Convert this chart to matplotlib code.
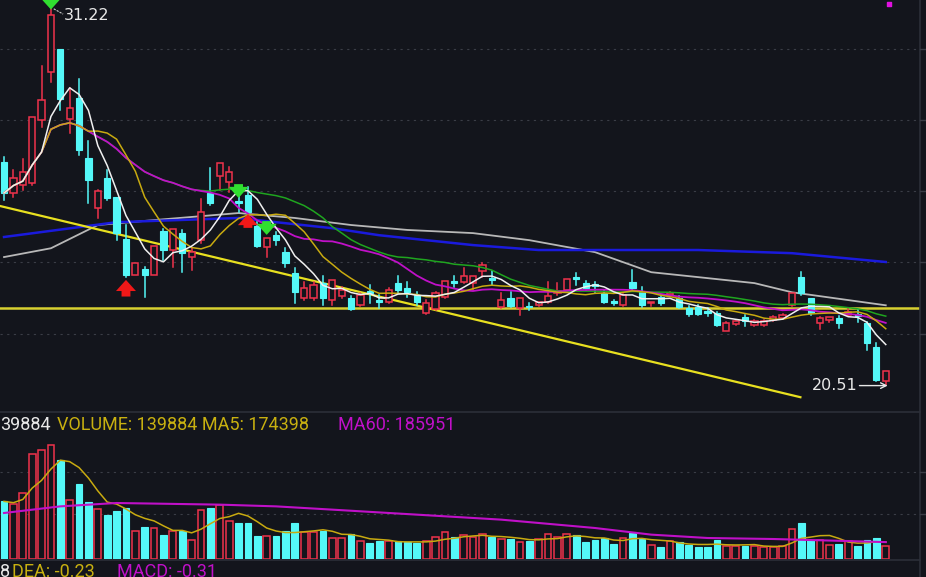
import numpy as np
import pandas as pd
import matplotlib
matplotlib.use("Agg")
import matplotlib.pyplot as plt
from matplotlib.patches import Rectangle

# ---------------- data ----------------
opens = [26.85,25.97,26.19,26.25,28.04,29.40,30.06,28.07,28.67,26.96,25.54,26.39,25.85,24.66,23.64,23.81,23.64,24.89,24.35,24.83,
         24.15,24.63,25.97,26.45,26.28,25.74,25.91,25.03,24.43,24.77,24.29,23.69,22.98,22.98,23.41,22.93,23.04,22.98,22.78,23.18,
         22.93,22.87,23.41,23.27,23.07,22.56,22.67,23.01,23.47,23.44,23.41,23.75,23.55,22.73,22.98,22.70,22.76,22.78,22.87,23.13,
         23.21,23.58,23.41,23.38,23.13,22.90,22.78,23.44,23.15,22.84,23.01,23.07,22.98,22.70,22.73,22.61,22.56,22.05,22.25,22.44,
         22.22,22.22,22.36,22.42,22.78,23.58,22.98,22.27,22.36,22.42,22.50,22.53,22.27,21.59,20.63]
closes = [25.97,26.39,26.56,28.13,28.61,31.02,28.64,28.38,27.19,26.34,26.02,25.82,24.83,23.64,23.98,23.64,24.46,24.35,24.94,24.26,
          24.29,25.43,25.68,26.82,26.56,25.68,25.43,24.46,24.69,24.63,23.98,23.15,23.27,23.35,22.98,23.50,23.21,22.67,23.07,23.13,
          22.87,23.21,23.21,23.15,22.87,22.84,23.13,23.47,23.41,23.61,23.61,23.92,23.50,22.93,22.76,22.98,22.73,22.87,23.04,23.18,
          23.52,23.52,23.27,23.32,22.87,22.84,23.07,23.27,22.78,22.87,22.84,23.13,22.73,22.53,22.53,22.56,22.22,22.27,22.33,22.33,
          22.33,22.33,22.44,22.50,23.13,23.13,22.56,22.42,22.44,22.27,22.59,22.47,21.71,20.65,20.91]
highs = [26.99,26.62,26.93,28.13,29.57,31.22,30.06,28.95,29.21,27.44,26.05,26.62,25.85,25.06,23.98,23.86,24.46,24.94,24.94,24.92,
         24.40,25.80,26.68,26.82,26.71,25.91,26.14,25.14,24.69,24.86,24.40,23.84,23.44,23.44,23.61,23.50,23.30,23.04,23.13,23.35,
         23.07,23.27,23.61,23.44,23.15,22.93,23.15,23.47,23.61,23.84,23.61,23.98,23.75,23.13,23.15,22.98,22.84,22.87,23.44,23.41,
         23.52,23.69,23.47,23.44,23.21,22.93,23.10,23.78,23.30,22.87,23.07,23.15,23.04,22.76,22.78,22.70,22.59,22.30,22.36,22.50,
         22.36,22.36,22.47,22.53,23.13,23.72,22.98,22.44,22.44,22.47,22.70,22.67,22.30,21.71,20.91]
lows = [25.77,25.85,26.05,26.19,27.84,29.12,28.32,27.67,27.05,25.68,25.26,25.77,24.63,23.58,23.64,23.01,23.64,24.06,23.86,23.72,
        23.78,24.55,25.63,26.05,26.00,25.43,25.37,24.43,24.15,24.49,23.86,22.84,22.93,22.93,22.78,22.78,22.98,22.64,22.76,22.84,
        22.70,22.84,23.13,23.01,22.78,22.53,22.64,22.98,23.30,23.41,23.21,23.58,23.35,22.70,22.73,22.50,22.64,22.76,22.84,23.07,
        23.18,23.35,23.21,23.15,22.84,22.78,22.76,23.21,22.73,22.76,22.78,23.04,22.70,22.47,22.50,22.47,22.19,22.05,22.22,22.19,
        22.19,22.19,22.33,22.39,22.76,23.07,22.50,22.10,22.30,22.13,22.47,22.30,21.51,20.63,20.51]
volumes = [634,605,726,1155,1203,1258,1093,645,829,627,550,480,532,561,312,348,341,260,312,312,
           213,543,561,598,414,396,396,249,249,249,312,396,293,293,312,231,231,279,194,176,
           194,194,194,183,176,194,238,293,238,260,238,275,238,224,220,183,202,224,275,238,
           279,260,183,205,227,169,231,286,220,158,132,194,183,158,132,132,213,147,147,139,
           147,132,128,147,330,396,205,205,158,169,194,147,213,231,140]
volumes = [v * 1000 for v in volumes]

ma60_idx = [0, 8, 12, 25, 29, 35, 40, 50, 57, 74, 84, 94]
ma60_val = [24.72, 25.00, 25.14, 25.26, 25.14, 24.97, 24.77, 24.49, 24.35, 24.35, 24.26, 24.01]
ma120_idx = [0, 5, 10, 16, 25, 31, 37, 43, 50, 56, 63, 69, 74, 80, 84, 94]
ma120_val = [24.15, 24.40, 25.06, 25.20, 25.40, 25.26, 25.06, 24.92, 24.83, 24.63, 24.29, 23.72, 23.58, 23.41, 23.15, 22.78]
vma60_idx = [0, 6, 12, 23, 29, 35, 44, 53, 63, 69, 75, 82, 94]
vma60_val = [506, 579, 616, 598, 579, 543, 488, 433, 341, 268, 231, 220, 186]
vma60_val = [v * 1000 for v in vma60_val]

support_level = 22.70
trend_start = (-0.43, 25.60)
trend_end = (84.9, 20.17)

# --------------- figure ---------------
W, H = 926, 577
BG = "#13151c"
RED = "#f0324c"
CYAN = "#54f8f8"
GRID = "#3a3d46"
fig = plt.figure(figsize=(W / 100, H / 100), dpi=100, facecolor=BG)

def px_axes(x0, y0, x1, y1):
    return fig.add_axes([x0 / W, 1 - y1 / H, (x1 - x0) / W, (y1 - y0) / H])

n = len(opens)
idx = np.arange(n)
x_lo, x_hi = -0.43, 97.65

ax = px_axes(0, 0, 920, 412)
ax.set_facecolor(BG)
ax.set_xlim(x_lo, x_hi)
ax.set_ylim(19.75, 31.45)
for g in [30.06, 28.04, 26.02, 24.0, 21.97]:
    ax.axhline(g, color=GRID, lw=0.8, ls=(0, (2, 4)), zorder=0)

bw = 0.66
for i in range(n):
    o, c, h, l = opens[i], closes[i], highs[i], lows[i]
    up = c >= o
    col = RED if up else CYAN
    lo_b, hi_b = min(o, c), max(o, c)
    ax.plot([i, i], [hi_b, h], color=col, lw=1.1, zorder=3)
    ax.plot([i, i], [l, lo_b], color=col, lw=1.1, zorder=3)
    hgt = max(hi_b - lo_b, 0.03)
    if up:
        ax.add_patch(Rectangle((i - bw / 2, lo_b), bw, hgt, facecolor=BG, edgecolor=col, lw=1.1, zorder=4))
    else:
        ax.add_patch(Rectangle((i - bw / 2, lo_b), bw, hgt, facecolor=col, edgecolor=col, lw=0.8, zorder=4))

cs = pd.Series(closes)
ax.plot(ma120_idx, ma120_val, color="#b8b8b8", lw=1.3, zorder=2)
ax.plot(ma60_idx, ma60_val, color="#1a1adc", lw=1.8, zorder=2)
ax.plot(idx, cs.rolling(30, min_periods=1).mean(), color="#1fa51f", lw=1.1, zorder=5)
ax.plot(idx, cs.rolling(20, min_periods=1).mean(), color="#c010c8", lw=1.3, zorder=5)
ax.plot(idx, cs.rolling(10, min_periods=1).mean(), color="#c8aa10", lw=1.1, zorder=5)
ax.plot(idx, cs.rolling(5, min_periods=1).mean(), color="#f0f0f0", lw=1.1, zorder=6)

ax.axhline(support_level, color="#d8d030", lw=1.8, zorder=2)
ax.plot([trend_start[0], trend_end[0]], [trend_start[1], trend_end[1]], color="#e8e020", lw=1.6, zorder=2)

def arrow(i, tip, tail, col):
    ax.annotate("", xy=(i, tip), xytext=(i, tail),
                arrowprops=dict(arrowstyle="simple,head_width=0.9,head_length=0.5,tail_width=0.4",
                                mutation_scale=16, color=col, lw=0), zorder=8)

arrow(5, 31.1, 31.75, "#30e030")
arrow(25, 25.75, 26.3, "#30e030")
arrow(28, 24.7, 25.25, "#30e030")
arrow(13, 23.58, 22.95, "#f01818")
arrow(26, 25.45, 24.9, "#f01818")

ax.plot([5.3, 6.3], [31.2, 31.05], color="#cccccc", lw=0.8, ls=(0, (2, 1)), zorder=7)
ax.text(6.4, 31.02, "31.22", color="#e8e8e8", fontsize=11.5, va="center", ha="left", zorder=9)
ax.text(86.1, 20.5, "20.51", color="#e8e8e8", fontsize=11.5, va="center", ha="left", zorder=9)
ax.annotate("", xy=(94.5, 20.5), xytext=(90.9, 20.5),
            arrowprops=dict(arrowstyle="->", color="#e8e8e8", lw=1.0), zorder=9)
ax.scatter([94.3], [31.35], marker="s", s=12, color="#e010e0", zorder=9)

for s in ax.spines.values():
    s.set_visible(False)
ax.set_xticks([]); ax.set_yticks([])

# volume
vx = px_axes(0, 435, 920, 559)
vx.set_facecolor(BG)
vx.set_xlim(x_lo, x_hi)
vx.set_ylim(0, 1.364e6)
for g in [495e3, 957e3]:
    vx.axhline(g, color=GRID, lw=0.8, ls=(0, (2, 4)), zorder=0)
vbw = 0.72
for i in range(n):
    up = closes[i] >= opens[i]
    col = RED if up else CYAN
    if up:
        vx.add_patch(Rectangle((i - vbw / 2, 0), vbw, volumes[i], facecolor=BG, edgecolor=col, lw=1.1, zorder=3))
    else:
        vx.add_patch(Rectangle((i - vbw / 2, 0), vbw, volumes[i], facecolor=col, edgecolor=col, lw=0.8, zorder=3))
vs = pd.Series(volumes)
vx.plot(idx, vs.rolling(5, min_periods=1).mean(), color="#c8aa10", lw=1.1, zorder=4)
vx.plot(vma60_idx, vma60_val, color="#c010c8", lw=1.5, zorder=4)
for s in vx.spines.values():
    s.set_visible(False)
vx.set_xticks([]); vx.set_yticks([])

# frame lines
ov = fig.add_axes([0, 0, 1, 1], facecolor="none")
ov.set_xlim(0, W); ov.set_ylim(H, 0); ov.axis("off")
ov.plot([920, 920], [0, H], color="#2c2f38", lw=1.2)
ov.plot([0, 920], [412, 412], color="#2c2f38", lw=1.2)
ov.plot([0, 920], [560, 560], color="#2c2f38", lw=1.2)
for yy in [49, 120, 191, 262, 334, 472, 514]:
    ov.plot([920, 925], [yy, yy], color="#3a3d46", lw=1)

fam = ["Roboto", "DejaVu Sans"]
fs = 13
ov.text(0, 425, "39884", color="#e8e8e8", fontsize=fs, va="center", family=fam)
ov.text(57, 425, "VOLUME: 139884 MA5: 174398", color="#c8b010", fontsize=fs, va="center", family=fam)
ov.text(338, 425, "MA60: 185951", color="#c010c8", fontsize=fs, va="center", family=fam)
ov.text(0, 572, "8", color="#e8e8e8", fontsize=fs, va="center", family=fam)
ov.text(12, 572, "DEA: -0.23", color="#c8b010", fontsize=fs, va="center", family=fam)
ov.text(117, 572, "MACD: -0.31", color="#c010c8", fontsize=fs, va="center", family=fam)

fig.savefig("out.png", dpi=100, facecolor=BG)
